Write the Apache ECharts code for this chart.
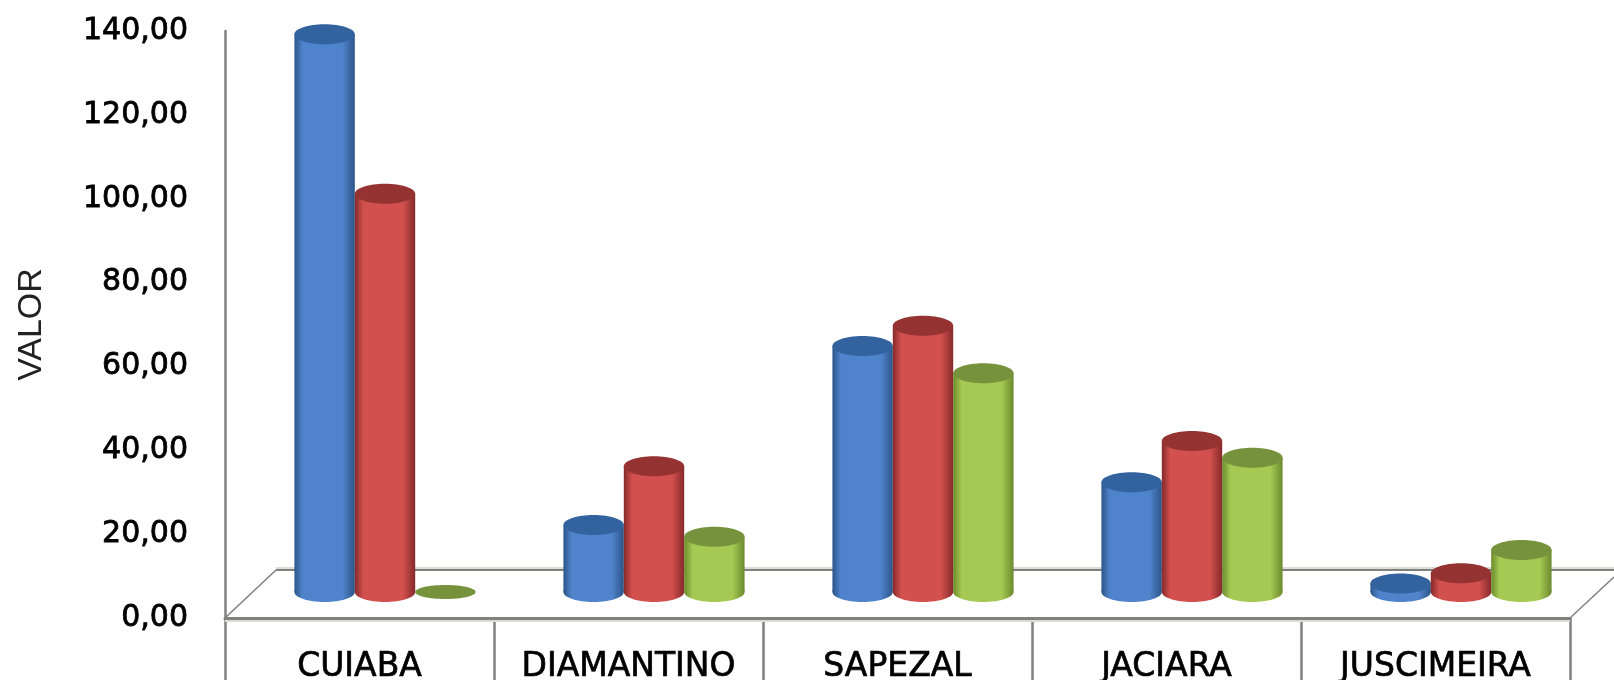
<!DOCTYPE html>
<html><head><meta charset="utf-8">
<style>html,body{margin:0;padding:0;background:#fff}#c{width:1614px;height:680px;filter:blur(0.6px)}</style>
<script src="https://cdn.jsdelivr.net/npm/echarts@6/dist/echarts.min.js"></script>
</head><body><div id="c"></div>
<script>
const categories = ['CUIABA','DIAMANTINO','SAPEZAL','JACIARA','JUSCIMEIRA'];
const serieA = [133, 16, 58.7, 26.2, 2];
const serieB = [95, 30, 63.5, 36, 4.5];
const serieC = [0, 13.2, 52.2, 32, 10];
const yTicks = {min:0,max:140,interval:20};
const palette = [
  {edge:'#2c5688',mid:'#4f83cc',top:'#33639e'},
  {edge:'#85292a',mid:'#d2504e',top:'#953332'},
  {edge:'#6c8a2e',mid:'#a5c952',top:'#76923c'}
];
const DEPTH_X = 25.5, DEPTH_Y = 26, RY = 10;
function grad(p){
  return {type:'linear',x:0,y:0,x2:1,y2:0,colorStops:[
    {offset:0,color:p.edge},{offset:.14,color:p.mid},{offset:.8,color:p.mid},{offset:1,color:p.edge}]};
}
function cyl(idx){
  return function(params,api){
    const band = api.size([1,0])[0];
    const w = band*0.2245, rx = w/2;
    const base = api.coord([api.value(0),0]);
    const top = api.coord([api.value(0),api.value(1)]);
    const cx = base[0]+DEPTH_X+(idx-1)*w;
    const yb = base[1]-DEPTH_Y, yt = top[1]-DEPTH_Y;
    const p = palette[idx], g = grad(p);
    const flat = (yb-yt)<2;
    const ry = flat ? 7 : RY;
    const kids = [];
    if(!flat){
      kids.push({type:'ellipse',shape:{cx:cx,cy:yb,rx:rx,ry:ry},style:{fill:g}});
      kids.push({type:'rect',shape:{x:cx-rx,y:yt,width:w,height:yb-yt},style:{fill:g}});
    }
    kids.push({type:'ellipse',shape:{cx:cx,cy:yt,rx:rx,ry:ry},style:{fill:p.top}});
    return {type:'group',children:kids};
  };
}
function floor(params,api){
  const c = params.coordSys;
  const l=c.x, r=c.x+c.width, b=c.y+c.height;
  const by=b-48, lineC='#808080';
  return {type:'group',children:[
    {type:'line',shape:{x1:l+51,y1:by-2,x2:1614,y2:by-2},style:{stroke:'#d9ddd2',lineWidth:2}},
    {type:'line',shape:{x1:l+51,y1:by,x2:1614,y2:by},style:{stroke:lineC,lineWidth:2}},
    {type:'line',shape:{x1:l,y1:b,x2:l+51,y2:by},style:{stroke:lineC,lineWidth:1.5}},
    {type:'line',shape:{x1:r,y1:b,x2:1614,y2:b-41},style:{stroke:lineC,lineWidth:1.5}},
    {type:'line',shape:{x1:l,y1:b+3,x2:r,y2:b+3},style:{stroke:'#d9ddd2',lineWidth:2}}
  ]};
}
const chart = echarts.init(document.getElementById('c'),null,{renderer:'canvas'});
const mk = (name,data,i)=>({type:'custom',name,renderItem:cyl(i),encode:{x:0,y:1},z:3+i,clip:false,
  data:data.map((v,k)=>[k,v])});
chart.setOption({
  animation:false,backgroundColor:'#fff',
  grid:{left:225,right:44,top:31,bottom:62,outerBoundsMode:'none'},
  xAxis:{type:'category',data:categories,
    axisLine:{lineStyle:{color:'#808080',width:3}},
    axisTick:{show:true,length:62,alignWithLabel:false,lineStyle:{color:'#808080',width:2.5}},
    axisLabel:{interval:0,color:'#000',fontFamily:'DejaVu Sans',fontSize:33,margin:33,
      textBorderColor:'#000',textBorderWidth:0.7}},
  yAxis:{type:'value',min:yTicks.min,max:yTicks.max,interval:yTicks.interval,
    name:'VALOR',nameLocation:'middle',nameRotate:90,nameGap:176,
    nameTextStyle:{color:'#222',fontFamily:'Liberation Sans',fontSize:34},
    axisLine:{show:true,lineStyle:{color:'#808080',width:2.5}},
    axisTick:{show:false},splitLine:{show:false},
    axisLabel:{color:'#000',fontFamily:'DejaVu Sans',fontSize:30,margin:37,
      textBorderColor:'#000',textBorderWidth:0.8,padding:[13,0,0,0],
      formatter:v=>v.toFixed(2).replace('.',',')}},
  series:[
    {type:'custom',renderItem:floor,data:[[0,0]],encode:{x:0,y:1},z:1,silent:true,clip:false},
    mk('A',serieA,0),mk('B',serieB,1),mk('C',serieC,2)
  ]
});
</script></body></html>
